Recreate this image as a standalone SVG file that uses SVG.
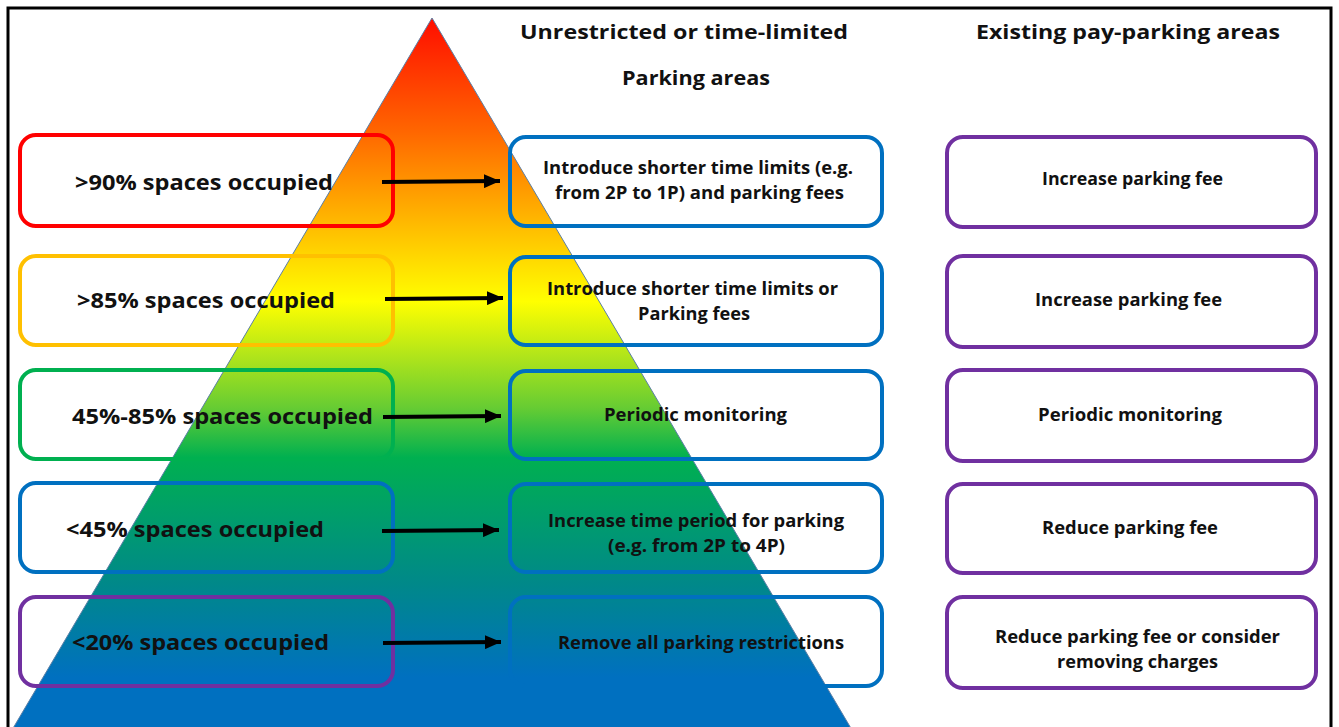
<svg xmlns="http://www.w3.org/2000/svg" width="1339" height="727" viewBox="0 0 1339 727">
<style>
text{font-family:"Open Sans",Lato,"Liberation Sans",sans-serif;font-weight:bold;fill:#111}
.hd{font-size:19px}
.lb{font-size:21px}
.md{font-size:17px}
.bx{fill:none;stroke-width:4}
.conn line{stroke:#000;stroke-width:4}
</style>
<defs>
<linearGradient id="tri" gradientUnits="userSpaceOnUse" x1="0" y1="18" x2="0" y2="727">
<stop offset="0" stop-color="#ff0d00"/>
<stop offset="0.16" stop-color="#ff6600"/>
<stop offset="0.3" stop-color="#ffc000"/>
<stop offset="0.4" stop-color="#ffff00"/>
<stop offset="0.55" stop-color="#66cc33"/>
<stop offset="0.62" stop-color="#00b050"/>
<stop offset="0.8" stop-color="#00888a"/>
<stop offset="0.93" stop-color="#0070c0"/>
<stop offset="1" stop-color="#0070c0"/>
</linearGradient>
<marker id="ah" markerUnits="userSpaceOnUse" markerWidth="18" markerHeight="14" refX="16" refY="7" orient="auto">
<path d="M0,0 L16,7 L0,14 Z" fill="#000"/>
</marker>
</defs>
<rect width="1339" height="727" fill="#fff"/>
<path d="M8,730 V8 H1331 V730" fill="none" stroke="#000" stroke-width="3"/>
<polygon points="432,18 12,730 852,730" fill="url(#tri)" stroke="#5b7fa6" stroke-width="1"/>

<g id="headers">
<text class="hd" x="520" y="39" textLength="328" lengthAdjust="spacingAndGlyphs">Unrestricted or time-limited</text>
<text class="hd" x="622" y="85" textLength="148" lengthAdjust="spacingAndGlyphs">Parking areas</text>
<text class="hd" x="976" y="39" textLength="304" lengthAdjust="spacingAndGlyphs">Existing pay-parking areas</text>
</g>

<g id="left1"><rect class="bx" x="20" y="135" width="373" height="91" rx="16" stroke="#ff0000"/><text class="lb" x="75" y="190" textLength="258" lengthAdjust="spacingAndGlyphs">&gt;90% spaces occupied</text></g>
<g id="left2"><rect class="bx" x="20" y="256" width="373" height="89" rx="16" stroke="#ffc000"/><text class="lb" x="77" y="308" textLength="258" lengthAdjust="spacingAndGlyphs">&gt;85% spaces occupied</text></g>
<g id="left3"><rect class="bx" x="20" y="370" width="373" height="89" rx="16" stroke="#00b050"/><text class="lb" x="72" y="424" textLength="301" lengthAdjust="spacingAndGlyphs">45%-85% spaces occupied</text></g>
<g id="left4"><rect class="bx" x="20" y="483" width="373" height="89" rx="16" stroke="#0070c0"/><text class="lb" x="66" y="537" textLength="258" lengthAdjust="spacingAndGlyphs">&lt;45% spaces occupied</text></g>
<g id="left5"><rect class="bx" x="20" y="597" width="373" height="89" rx="16" stroke="#7030a0"/><text class="lb" x="72" y="650" textLength="257" lengthAdjust="spacingAndGlyphs">&lt;20% spaces occupied</text></g>

<g id="mid1"><rect class="bx" x="510" y="137" width="372" height="89" rx="16" stroke="#0070c0"/><text class="md" x="543" y="174" textLength="310" lengthAdjust="spacingAndGlyphs">Introduce shorter time limits (e.g.</text><text class="md" x="555" y="199" textLength="289" lengthAdjust="spacingAndGlyphs">from 2P to 1P) and parking fees</text></g>
<g id="mid2"><rect class="bx" x="510" y="257" width="372" height="88" rx="16" stroke="#0070c0"/><text class="md" x="547" y="295" textLength="291" lengthAdjust="spacingAndGlyphs">Introduce shorter time limits or</text><text class="md" x="638" y="320" textLength="112" lengthAdjust="spacingAndGlyphs">Parking fees</text></g>
<g id="mid3"><rect class="bx" x="510" y="371" width="372" height="88" rx="16" stroke="#0070c0"/><text class="md" x="604" y="421" textLength="183" lengthAdjust="spacingAndGlyphs">Periodic monitoring</text></g>
<g id="mid4"><rect class="bx" x="510" y="484" width="372" height="88" rx="16" stroke="#0070c0"/><text class="md" x="548" y="527" textLength="296" lengthAdjust="spacingAndGlyphs">Increase time period for parking</text><text class="md" x="608" y="552" textLength="177" lengthAdjust="spacingAndGlyphs">(e.g. from 2P to 4P)</text></g>
<g id="mid5"><rect class="bx" x="510" y="597" width="372" height="89" rx="16" stroke="#0070c0"/><text class="md" x="558" y="649" textLength="286" lengthAdjust="spacingAndGlyphs">Remove all parking restrictions</text></g>

<g id="right1"><rect class="bx" x="947" y="137" width="369" height="90" rx="16" stroke="#7030a0"/><text class="md" x="1042" y="185" textLength="181" lengthAdjust="spacingAndGlyphs">Increase parking fee</text></g>
<g id="right2"><rect class="bx" x="947" y="256" width="369" height="91" rx="16" stroke="#7030a0"/><text class="md" x="1035" y="306" textLength="187" lengthAdjust="spacingAndGlyphs">Increase parking fee</text></g>
<g id="right3"><rect class="bx" x="947" y="370" width="369" height="91" rx="16" stroke="#7030a0"/><text class="md" x="1038" y="421" textLength="184" lengthAdjust="spacingAndGlyphs">Periodic monitoring</text></g>
<g id="right4"><rect class="bx" x="947" y="484" width="369" height="89" rx="16" stroke="#7030a0"/><text class="md" x="1042" y="534" textLength="176" lengthAdjust="spacingAndGlyphs">Reduce parking fee</text></g>
<g id="right5"><rect class="bx" x="947" y="597" width="369" height="91" rx="16" stroke="#7030a0"/><text class="md" x="995" y="643" textLength="285" lengthAdjust="spacingAndGlyphs">Reduce parking fee or consider</text><text class="md" x="1057" y="668" textLength="161" lengthAdjust="spacingAndGlyphs">removing charges</text></g>

<g id="connectors" class="conn">
<line x1="382" y1="182" x2="500" y2="181" marker-end="url(#ah)"/>
<line x1="385" y1="299" x2="503" y2="298" marker-end="url(#ah)"/>
<line x1="383" y1="417" x2="501" y2="416" marker-end="url(#ah)"/>
<line x1="382" y1="531" x2="499" y2="530" marker-end="url(#ah)"/>
<line x1="383" y1="643" x2="501" y2="642" marker-end="url(#ah)"/>
</g>
</svg>
